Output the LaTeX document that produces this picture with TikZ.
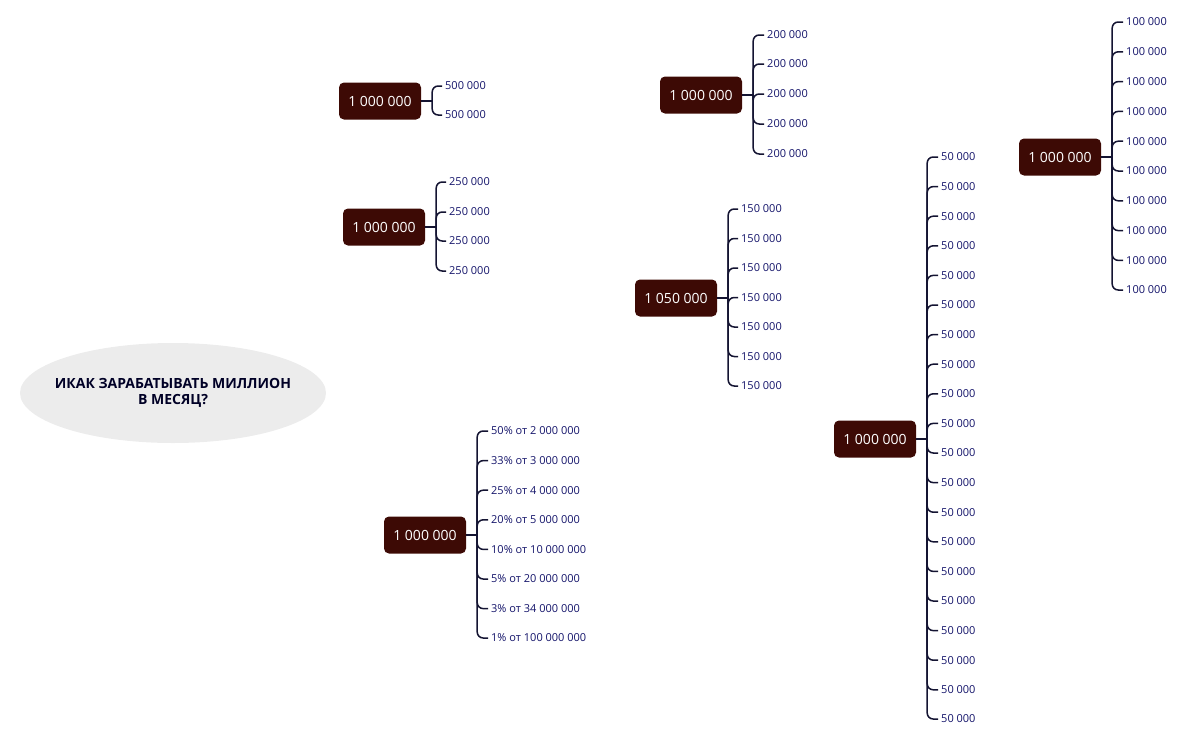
\documentclass[tikz,border=0pt]{standalone}
\usepackage{fontspec}
\setmainfont{Open Sans}
\begin{document}
\begin{tikzpicture}[x=1pt,y=-1pt,
  root/.style={fill=rootc,text=white,rounded corners=5pt,minimum width=82pt,minimum height=37pt,inner sep=2pt,font=\fontsize{14}{16}\selectfont},
  kid/.style={text=kidc,anchor=west,inner sep=3pt,font=\fontsize{11}{13}\selectfont},
  link/.style={draw=linec,line width=1.5pt,rounded corners=6pt}]
\definecolor{rootc}{HTML}{3D0A05}
\definecolor{kidc}{HTML}{14146A}
\definecolor{linec}{HTML}{141432}
\useasboundingbox (0,0) rectangle (1200,734);
\newcommand\mybranch[6]{%
  \node[root] (#1) at (#2,#3) {#4};
  \coordinate (#1s) at ([xshift=11pt]#1.east);
  \draw[draw=linec,line width=1.5pt] (#1.east) -- (#1s);
  \foreach \yy/\lab [count=\i] in {#6} {
    \node[kid] (#1c\i) at (#5,\yy) {\lab};
    \draw[link] (#1s) |- (#1c\i.west);
  }}
\fill[gray!15] (173,393) ellipse [x radius=153, y radius=50];
\node[align=center,text=black!85!blue,font=\fontsize{14}{16}\selectfont\bfseries] (title) at (173,393) {ИКАК ЗАРАБАТЫВАТЬ МИЛЛИОН\\В МЕСЯЦ?};
\mybranch{a}{380}{101}{1 000 000}{442}{86/500 000,115/500 000}
\mybranch{b}{384}{227}{1 000 000}{446}{182/250 000,212/250 000,241/250 000,271/250 000}
\mybranch{c}{701}{95}{1 000 000}{764}{35/200 000,64/200 000,94/200 000,124/200 000,154/200 000}
\mybranch{d}{676}{298}{1 050 000}{738}{209/150 000,238.5/150 000,268/150 000,297.5/150 000,327/150 000,356.5/150 000,386/150 000}
\mybranch{e}{1060}{157}{1 000 000}{1123}{22/100 000,51.8/100 000,81.6/100 000,111.4/100 000,141.2/100 000,171/100 000,200.8/100 000,230.6/100 000,260.4/100 000,290/100 000}
\mybranch{f}{875}{439}{1 000 000}{938}{157/50 000,186.6/50 000,216.2/50 000,245.8/50 000,275.4/50 000,305/50 000,334.6/50 000,364.2/50 000,393.8/50 000,423.4/50 000,453/50 000,482.6/50 000,512.2/50 000,541.8/50 000,571.4/50 000,601/50 000,630.6/50 000,660.2/50 000,689.8/50 000,719/50 000}
\mybranch{g}{425}{535}{1 000 000}{488}{431/50\% от 2 000 000,460.6/33\% от 3 000 000,490.2/25\% от 4 000 000,519.8/20\% от 5 000 000,549.4/10\% от 10 000 000,579/5\% от 20 000 000,608.6/3\% от 34 000 000,638/1\% от 100 000 000}
\end{tikzpicture}
\end{document}
